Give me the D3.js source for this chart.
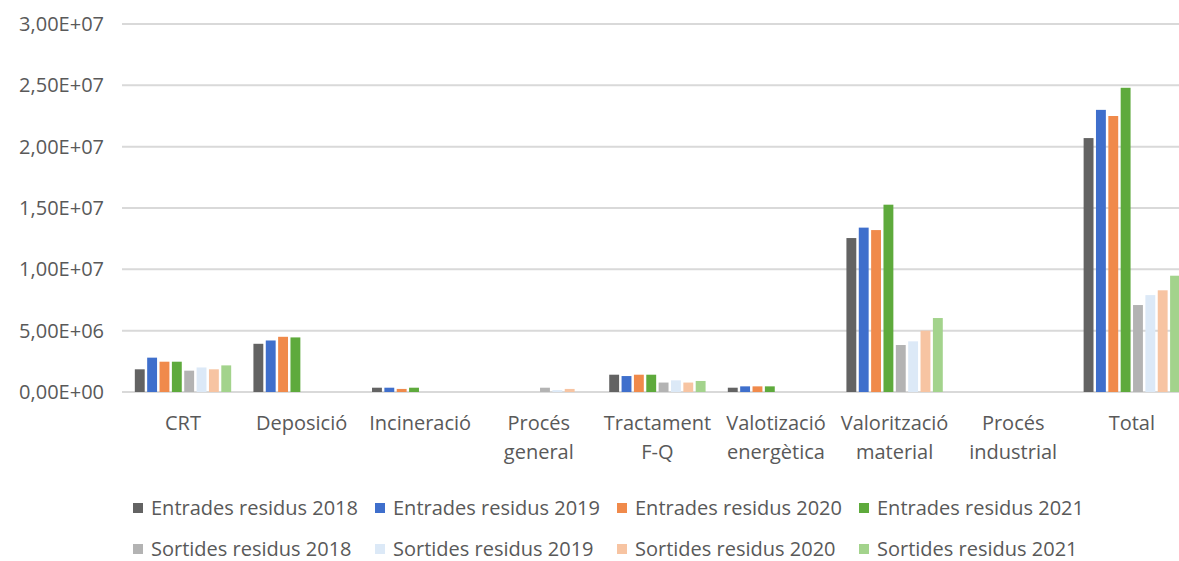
<!DOCTYPE html>
<html>
<head>
<meta charset="utf-8">
<script src="https://cdn.jsdelivr.net/npm/d3@7"></script>
<style>
  body { margin: 0; background: #fff; }
  text { font-family: "Open Sans", sans-serif; fill: #595959; }
</style>
</head>
<body>
<div id="chart"></div>
<script>
// chart data
const categories = ["CRT", "Deposició", "Incineració", "Procés general", "Tractament F-Q",
    "Valotizació energètica", "Valorització material", "Procés industrial", "Total"];

const seriesNames = ["Entrades residus 2018", "Entrades residus 2019", "Entrades residus 2020", "Entrades residus 2021",
    "Sortides residus 2018", "Sortides residus 2019", "Sortides residus 2020", "Sortides residus 2021"];

const entrades2018 = [1.85e6, 3.93e6, 0.35e6, 0, 1.41e6, 0.35e6, 12.55e6, 0, 20.7e6];
const entrades2019 = [2.8e6, 4.2e6, 0.35e6, 0, 1.3e6, 0.46e6, 13.4e6, 0, 23.0e6];
const entrades2020 = [2.47e6, 4.5e6, 0.25e6, 0, 1.41e6, 0.46e6, 13.2e6, 0, 22.5e6];
const entrades2021 = [2.47e6, 4.45e6, 0.35e6, 0, 1.41e6, 0.46e6, 15.27e6, 0, 24.8e6];
const sortides2018 = [1.74e6, 0, 0, 0.35e6, 0.77e6, 0, 3.83e6, 0, 7.09e6];
const sortides2019 = [2.0e6, 0, 0, 0.15e6, 0.95e6, 0, 4.13e6, 0, 7.9e6];
const sortides2020 = [1.85e6, 0, 0, 0.25e6, 0.77e6, 0, 5.0e6, 0, 8.29e6];
const sortides2021 = [2.17e6, 0, 0, 0, 0.9e6, 0, 6.03e6, 0, 9.48e6];

const yTicks = [0, 5e6, 1e7, 1.5e7, 2e7, 2.5e7, 3e7];
const yTickLabels = ["0,00E+00", "5,00E+06", "1,00E+07", "1,50E+07", "2,00E+07", "2,50E+07", "3,00E+07"];

const allSeries = [entrades2018, entrades2019, entrades2020, entrades2021,
    sortides2018, sortides2019, sortides2020, sortides2021];
const colors = ["#636363", "#3f6fcc", "#f08a4b", "#5eaa3c", "#b3b3b3", "#dce9f7", "#f7c4a2", "#a3d38c"];

const width = 1179, height = 561;
const fontSize = "20px";

const svg = d3.select("#chart").append("svg")
    .attr("width", width)
    .attr("height", height);

const y = d3.scaleLinear().domain([0, 3e7]).range([392, 24]);
const x = d3.scaleBand().domain(categories).range([123.7, 123.7 + 9 * 118.6]).padding(0);
const xs = d3.scaleBand().domain(seriesNames).range([0, x.bandwidth()])
    .paddingInner(0.2).paddingOuter(0.9);

// gridlines
svg.append("g").selectAll("line")
    .data(yTicks)
    .enter().append("line")
    .attr("x1", 122).attr("x2", width)
    .attr("y1", d => y(d)).attr("y2", d => y(d))
    .attr("stroke", "#d9d9d9")
    .attr("stroke-width", 2);

// y labels
svg.append("g").selectAll("text")
    .data(yTicks)
    .enter().append("text")
    .attr("x", 104)
    .attr("y", d => y(d))
    .attr("dy", "0.35em")
    .attr("text-anchor", "end")
    .style("font-size", fontSize)
    .text((d, i) => yTickLabels[i]);

// bars
const groups = svg.append("g").selectAll("g")
    .data(categories)
    .enter().append("g")
    .attr("transform", d => `translate(${x(d)},0)`);

groups.selectAll("rect")
    .data((c, ci) => seriesNames.map((s, si) => ({ s, si, v: allSeries[si][ci] })))
    .enter().append("rect")
    .attr("x", d => xs(d.s))
    .attr("width", xs.bandwidth())
    .attr("y", d => y(d.v))
    .attr("height", d => y(0) - y(d.v))
    .attr("fill", d => colors[d.si]);

// x labels, wrapped to the band width
const xl = svg.append("g").selectAll("text")
    .data(categories)
    .enter().append("text")
    .attr("x", d => x(d) + x.bandwidth() / 2)
    .attr("y", 430)
    .attr("text-anchor", "middle")
    .style("font-size", fontSize);

xl.each(function (d) {
    const t = d3.select(this);
    const words = d.split(" ");
    let line = [];
    let tspan = t.append("tspan").attr("x", t.attr("x")).attr("dy", 0);
    words.forEach(w => {
        line.push(w);
        tspan.text(line.join(" "));
        if (tspan.node().getComputedTextLength() > x.bandwidth() - 2 && line.length > 1) {
            line.pop();
            tspan.text(line.join(" "));
            line = [w];
            tspan = t.append("tspan").attr("x", t.attr("x")).attr("dy", 29).text(w);
        }
    });
});

// legend
const legendCols = [133, 375, 617, 859];
const legendRows = [508, 549];
const legend = svg.append("g").selectAll("g")
    .data(seriesNames)
    .enter().append("g")
    .attr("transform", (d, i) => `translate(${legendCols[i % 4]},${legendRows[Math.floor(i / 4)]})`);

legend.append("rect")
    .attr("x", 0).attr("y", -5)
    .attr("width", 10).attr("height", 10)
    .attr("fill", (d, i) => colors[i]);

legend.append("text")
    .attr("x", 18)
    .attr("dy", "0.35em")
    .style("font-size", fontSize)
    .text(d => d);
</script>
</body>
</html>
